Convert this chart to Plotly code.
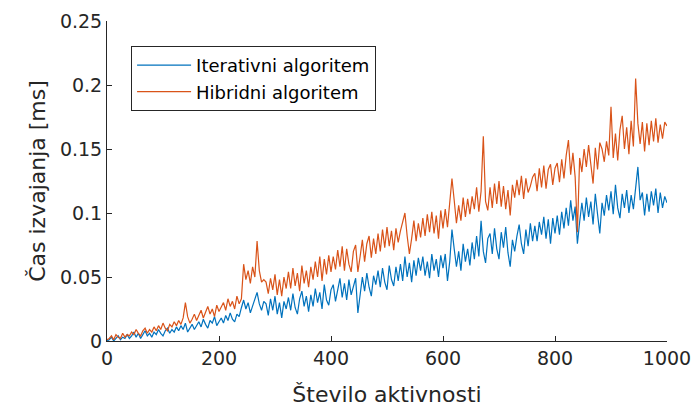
import plotly.graph_objects as go

# Število aktivnosti (sampled every 4)
x_vals = list(range(0, 1001, 4))

iterativni = [
    0.000,
    0.001, 0.003, 0.000, 0.002, 0.004, 0.001, 0.003, 0.002, 0.005, 0.002,
    0.004, 0.007, 0.003, 0.006, 0.002, 0.005, 0.008, 0.004, 0.006, 0.003,
    0.007, 0.005, 0.009, 0.006, 0.004, 0.008, 0.010, 0.006, 0.009, 0.007,
    0.011, 0.008, 0.012, 0.009, 0.014, 0.007, 0.010, 0.013, 0.009, 0.012,
    0.015, 0.011, 0.017, 0.013, 0.010, 0.016, 0.014, 0.019, 0.012, 0.015,
    0.018, 0.014, 0.020, 0.016, 0.022, 0.017, 0.015, 0.021, 0.019, 0.026,
    0.032, 0.025, 0.030, 0.022, 0.027, 0.033, 0.038, 0.029, 0.024, 0.031,
    0.029, 0.020, 0.033, 0.024, 0.035, 0.021, 0.030, 0.018, 0.031, 0.025,
    0.034, 0.024, 0.037, 0.026, 0.021, 0.033, 0.039, 0.027, 0.035, 0.023,
    0.036, 0.027, 0.041, 0.030, 0.038, 0.025, 0.044, 0.032, 0.028, 0.040,
    0.044, 0.031, 0.040, 0.049, 0.034, 0.045, 0.032, 0.048, 0.036, 0.043,
    0.049, 0.022, 0.038, 0.050, 0.039, 0.053, 0.042, 0.035, 0.051, 0.044,
    0.055, 0.042, 0.057, 0.046, 0.040, 0.059, 0.048, 0.043, 0.058, 0.047,
    0.060, 0.047, 0.066, 0.050, 0.061, 0.046, 0.063, 0.051, 0.065, 0.055,
    0.066, 0.051, 0.062, 0.049, 0.068, 0.055, 0.064, 0.050, 0.067, 0.057,
    0.068, 0.047, 0.062, 0.087, 0.072, 0.058, 0.070, 0.055, 0.076, 0.062,
    0.072, 0.059, 0.077, 0.064, 0.082, 0.066, 0.094, 0.070, 0.061, 0.080,
    0.084, 0.068, 0.088, 0.072, 0.064, 0.085, 0.073, 0.089, 0.069, 0.058,
    0.079, 0.070, 0.082, 0.091, 0.076, 0.068, 0.087, 0.074, 0.092, 0.078,
    0.090, 0.078, 0.093, 0.083, 0.097, 0.080, 0.095, 0.076, 0.096, 0.084,
    0.098, 0.083, 0.101, 0.088, 0.104, 0.090, 0.110, 0.094, 0.105, 0.076,
    0.093, 0.108, 0.094, 0.112, 0.097, 0.109, 0.091, 0.115, 0.099, 0.084,
    0.108, 0.098, 0.114, 0.102, 0.117, 0.099, 0.122, 0.104, 0.096, 0.115,
    0.104, 0.118, 0.100, 0.114, 0.103, 0.119, 0.136, 0.110, 0.116, 0.098,
    0.115, 0.101, 0.117, 0.106, 0.119, 0.100, 0.116, 0.104, 0.113, 0.108,
]

hibridni = [
    0.001,
    0.002, 0.004, 0.001, 0.005, 0.003, 0.002, 0.006, 0.003, 0.005, 0.004,
    0.007, 0.005, 0.009, 0.006, 0.004, 0.008, 0.010, 0.006, 0.009, 0.007,
    0.011, 0.008, 0.012, 0.009, 0.014, 0.010, 0.008, 0.013, 0.011, 0.015,
    0.012, 0.016, 0.013, 0.018, 0.030, 0.019, 0.014, 0.017, 0.021, 0.016,
    0.020, 0.024, 0.018, 0.022, 0.027, 0.021, 0.025, 0.019, 0.028, 0.023,
    0.026, 0.030, 0.024, 0.033, 0.027, 0.031, 0.025, 0.035, 0.029, 0.033,
    0.060, 0.048, 0.055, 0.045, 0.058, 0.050, 0.078, 0.055, 0.046, 0.048,
    0.046, 0.037, 0.049, 0.040, 0.052, 0.036, 0.048, 0.035, 0.050, 0.041,
    0.054, 0.041, 0.057, 0.043, 0.053, 0.039, 0.059, 0.045, 0.055, 0.042,
    0.058, 0.048, 0.062, 0.050, 0.066, 0.047, 0.064, 0.052, 0.067, 0.054,
    0.066, 0.056, 0.071, 0.058, 0.074, 0.055, 0.072, 0.060, 0.054, 0.070,
    0.075, 0.054, 0.066, 0.079, 0.062, 0.076, 0.082, 0.065, 0.080, 0.068,
    0.084, 0.070, 0.087, 0.073, 0.089, 0.074, 0.086, 0.071, 0.088, 0.077,
    0.086, 0.093, 0.100, 0.082, 0.068, 0.080, 0.094, 0.078, 0.092, 0.081,
    0.096, 0.082, 0.099, 0.085, 0.101, 0.084, 0.098, 0.080, 0.102, 0.088,
    0.103, 0.089, 0.108, 0.127, 0.110, 0.092, 0.106, 0.094, 0.112, 0.097,
    0.111, 0.099, 0.113, 0.103, 0.120, 0.101, 0.117, 0.160, 0.109, 0.102,
    0.120, 0.104, 0.123, 0.107, 0.125, 0.105, 0.121, 0.103, 0.118, 0.098,
    0.122, 0.112, 0.126, 0.114, 0.129, 0.111, 0.127, 0.116, 0.121, 0.128,
    0.131, 0.117, 0.135, 0.120, 0.137, 0.119, 0.134, 0.138, 0.122, 0.135,
    0.139, 0.124, 0.142, 0.127, 0.145, 0.157, 0.130, 0.147, 0.128, 0.085,
    0.143, 0.132, 0.150, 0.136, 0.153, 0.138, 0.123, 0.151, 0.134, 0.155,
    0.150, 0.140, 0.156, 0.145, 0.183, 0.143, 0.162, 0.141, 0.165, 0.176,
    0.150, 0.167, 0.146, 0.172, 0.152, 0.205, 0.170, 0.154, 0.171, 0.148,
    0.170, 0.153, 0.172, 0.156, 0.174, 0.155, 0.169, 0.158, 0.171, 0.168,
]

series_names = ["Iterativni algoritem", "Hibridni algoritem"]
series_colors = ["#0072BD", "#D95319"]

x_tick_vals = [0, 200, 400, 600, 800, 1000]
x_tick_text = ["0", "200", "400", "600", "800", "1000"]
y_tick_vals = [0, 0.05, 0.1, 0.15, 0.2, 0.25]
y_tick_text = ["0", "0.05", "0.1", "0.15", "0.2", "0.25"]

FONT = "DejaVu Sans"
AX = "#262626"

fig = go.Figure()
for name, ys, col in zip(series_names, [iterativni, hibridni], series_colors):
    fig.add_trace(go.Scatter(x=x_vals, y=ys, mode="lines", name=name,
                             line=dict(color=col, width=1.2)))

fig.update_layout(
    width=694, height=410,
    margin=dict(l=107, r=27, t=21, b=69),
    paper_bgcolor="white", plot_bgcolor="white",
    font=dict(family=FONT, color=AX, size=19),
    showlegend=True,
    legend=dict(x=0.043, y=0.922, xanchor="left", yanchor="top",
                bgcolor="white", bordercolor=AX, borderwidth=1,
                font=dict(size=18, color="#000000"), itemwidth=54,
                tracegroupgap=4),
)
fig.update_xaxes(range=[0, 1000], tickmode="array", tickvals=x_tick_vals,
                 ticktext=x_tick_text, ticks="inside", ticklen=5,
                 tickcolor=AX, showline=True, linecolor=AX, linewidth=1,
                 showgrid=False, zeroline=False, mirror=False, automargin=False,
                 title=dict(text="Število aktivnosti", font=dict(size=22), standoff=18),
                 tickfont=dict(size=19))
fig.update_yaxes(range=[0, 0.25], tickmode="array", tickvals=y_tick_vals,
                 ticktext=y_tick_text, ticks="inside", ticklen=5,
                 tickcolor=AX, showline=True, linecolor=AX, linewidth=1,
                 showgrid=False, zeroline=False, mirror=False, automargin=False,
                 title=dict(text="Čas izvajanja [ms]", font=dict(size=22), standoff=8),
                 tickfont=dict(size=19))

fig.write_html("out.html")
